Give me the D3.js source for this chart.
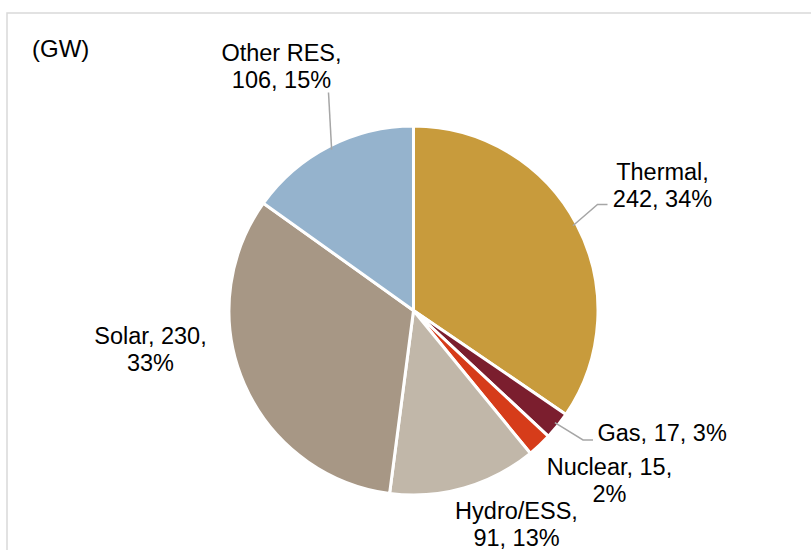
<!DOCTYPE html>
<html>
<head>
<meta charset="utf-8">
<script src="https://cdn.jsdelivr.net/npm/d3@7"></script>
<style>
  html, body { margin: 0; padding: 0; background: #fff; }
  text { font-family: "Liberation Sans", Arial, sans-serif; fill: #000; }
</style>
</head>
<body>
<script>
// capacity mix, GW
var categories = ["Thermal", "Gas", "Nuclear", "Hydro/ESS", "Solar", "Other RES"];
var capacity = [242, 17, 15, 91, 230, 106];
var shares = ["34%", "3%", "2%", "13%", "33%", "15%"];
var colors = ["#C89B3C", "#7B1E2E", "#D63C1A", "#C1B7A9", "#A79785", "#95B3CD"];

// label lines as shown in the picture (text only)
var labelLines = [
    ["Thermal,", "242, 34%"],
    ["Gas, 17, 3%"],
    ["Nuclear, 15,", "2%"],
    ["Hydro/ESS,", "91, 13%"],
    ["Solar, 230,", "33%"],
    ["Other RES,", "106, 15%"]
];

var width = 811, height = 550;
var cx = 413.5, cy = 310.5, radius = 184.5;
var fontSize = 23.5;

var svg = d3.select("body").append("svg")
    .attr("width", width)
    .attr("height", height);

// chart frame
svg.append("path")
    .attr("d", "M7,550V13H811")
    .attr("fill", "none")
    .attr("stroke", "#D9D9D9")
    .attr("stroke-width", 1.5);

svg.append("text")
    .attr("x", 32).attr("y", 57)
    .attr("font-size", 24)
    .text("(GW)");

var data = categories.map((c, i) => ({name: c, value: capacity[i], share: shares[i], color: colors[i], lines: labelLines[i]}));

var pie = d3.pie().sort(null).value(d => d.value);
var arc = d3.arc().innerRadius(0).outerRadius(radius);

var g = svg.append("g").attr("transform", "translate(" + cx + "," + cy + ")");

var arcs = pie(data);

g.selectAll("path.slice")
    .data(arcs)
  .enter().append("path")
    .attr("class", "slice")
    .attr("d", arc)
    .attr("fill", d => d.data.color)
    .attr("stroke", "#fff")
    .attr("stroke-width", 3)
    .attr("stroke-linejoin", "round");

// label placement (anchor x, first baseline) relative to the pie centre
var labelPos = {
    "Thermal":   {x: 249, y: -131, anchor: "middle"},
    "Gas":       {x: 184, y: 130, anchor: "start"},
    "Nuclear":   {x: 196, y: 164, anchor: "middle"},
    "Hydro/ESS": {x: 103, y: 208, anchor: "middle"},
    "Solar":     {x: -263, y: 33, anchor: "middle"},
    "Other RES": {x: -132, y: -250, anchor: "middle"}
};
var lineH = 27.5;

var labels = g.selectAll("text.lbl")
    .data(arcs)
  .enter().append("text")
    .attr("class", "lbl")
    .attr("font-size", fontSize)
    .attr("text-anchor", d => labelPos[d.data.name].anchor)
    .attr("transform", d => "translate(" + labelPos[d.data.name].x + "," + labelPos[d.data.name].y + ")");

labels.selectAll("tspan")
    .data(d => d.data.lines)
  .enter().append("tspan")
    .attr("x", 0)
    .attr("y", (d, i) => i * lineH)
    .text(d => d);

// leader lines: from the slice edge to the label
var leaders = {
    "Thermal":   [[166.5, -88.5], [184, -106], [194, -106]],
    "Gas":       [[148, 117.5], [169.5, 129.5], [179.5, 129.5]],
    "Other RES": [[-85, -167], [-85, -218]]
};
var line = d3.line();
g.selectAll("path.leader")
    .data(arcs.filter(d => leaders[d.data.name]))
  .enter().append("path")
    .attr("class", "leader")
    .attr("d", d => {
        var pts = leaders[d.data.name];
        // snap the first point onto the slice edge along its own angle
        var a = Math.atan2(pts[0][1], pts[0][0]);
        var start = [Math.cos(a) * (radius - 4), Math.sin(a) * (radius - 4)];
        return line([start].concat(pts.slice(1)));
    })
    .attr("fill", "none")
    .attr("stroke", "#A6A6A6")
    .attr("stroke-width", 1.5);
</script>
</body>
</html>
